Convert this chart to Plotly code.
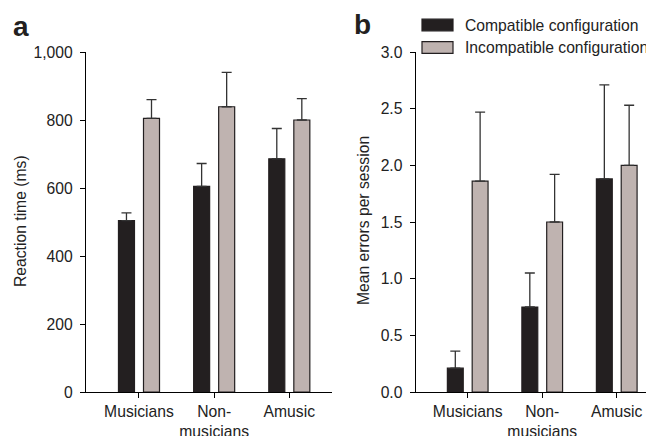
import plotly.graph_objects as go

categories = ["Musicians", "Non-musicians", "Amusic"]
tick_labels = ["Musicians", "Non-<br>musicians", "Amusic"]
series_names = ["Compatible configuration", "Incompatible configuration"]

rt_compatible = [504, 605, 686]
rt_compatible_err = [23, 67, 89]
rt_incompatible = [805, 839, 800]
rt_incompatible_err = [55, 101, 63]

err_compatible = [0.21, 0.75, 1.88]
err_compatible_err = [0.15, 0.30, 0.83]
err_incompatible = [1.86, 1.50, 2.00]
err_incompatible_err = [0.61, 0.42, 0.53]

rt_ticks = [0, 200, 400, 600, 800, 1000]
rt_ticktext = ["0", "200", "400", "600", "800", "1,000"]
err_ticks = [0, 0.5, 1.0, 1.5, 2.0, 2.5, 3.0]
err_ticktext = ["0.0", "0.5", "1.0", "1.5", "2.0", "2.5", "3.0"]

BLACK = "#231f20"
GRAY = "#bfb3b0"
EDGE = "#231f20"
FONT = "Liberation Sans, Arial, Helvetica, sans-serif"
FS = 15.7

# The page body has an 8px margin, so the figure is sized to fill the
# remaining window and page pixel positions are shifted by that margin.
PAGE_MARGIN = 8
W, H = 654 - PAGE_MARGIN, 436 - PAGE_MARGIN
xpos = [0, 1, 2]

fig = go.Figure()

def add_bars(xaxis, yaxis, vals, errs, color, offset):
    fig.add_trace(go.Bar(
        x=xpos, y=vals, xaxis=xaxis, yaxis=yaxis,
        width=0.213, offset=offset,
        marker=dict(color=color, line=dict(color=EDGE, width=1.2)),
        error_y=dict(type="data", array=errs, symmetric=False,
                     arrayminus=[0] * len(errs),
                     color="#333333", thickness=1.3, width=5),
        showlegend=False,
    ))

add_bars("x", "y", rt_compatible, rt_compatible_err, BLACK, -0.273)
add_bars("x", "y", rt_incompatible, rt_incompatible_err, GRAY, 0.06)
add_bars("x2", "y2", err_compatible, err_compatible_err, BLACK, -0.273)
add_bars("x2", "y2", err_incompatible, err_incompatible_err, GRAY, 0.06)

def px_x(p):
    return (p - PAGE_MARGIN) / W

def px_y(p):
    return (H - (p - PAGE_MARGIN)) / H

ydom = [px_y(392), px_y(52)]

common_x = dict(
    tickmode="array", tickvals=xpos, ticktext=tick_labels,
    showline=True, linecolor="#000000", linewidth=1.2,
    ticks="outside", ticklen=5, tickcolor="#000000", tickwidth=1.2,
    showgrid=False, zeroline=False, automargin=False,
    tickfont=dict(family=FONT, size=FS, color="#222222"),
)
common_y = dict(
    showline=True, linecolor="#000000", linewidth=1.2,
    ticks="outside", ticklen=5, tickcolor="#000000", tickwidth=1.2,
    showgrid=False, zeroline=False, automargin=False,
    tickfont=dict(family=FONT, size=FS, color="#222222"),
    ticklabelstandoff=4,
)

fig.update_layout(
    template="none",
    width=W, height=H,
    margin=dict(l=0, r=0, t=0, b=0, autoexpand=False),
    paper_bgcolor="white", plot_bgcolor="white",
    barmode="overlay",
    font=dict(family=FONT, size=FS, color="#222222"),
    xaxis=dict(domain=[px_x(86), px_x(332)], range=[-0.705, 2.568],
               anchor="y", **common_x),
    yaxis=dict(domain=ydom, range=[0, 1000], anchor="x",
               tickvals=rt_ticks, ticktext=rt_ticktext, **common_y),
    xaxis2=dict(domain=[px_x(415.7), 1.0], range=[-0.698, 2.5],
                anchor="y2", **common_x),
    yaxis2=dict(domain=ydom, range=[0, 3.0], anchor="x2",
                tickvals=err_ticks, ticktext=err_ticktext, **common_y),
)

annotations = [
    dict(text="<b>a</b>", x=px_x(11), y=px_y(27), xref="paper", yref="paper",
         xanchor="left", yanchor="middle", showarrow=False,
         font=dict(family=FONT, size=28, color="#231f20")),
    dict(text="<b>b</b>", x=px_x(352), y=px_y(24), xref="paper", yref="paper",
         xanchor="left", yanchor="middle", showarrow=False,
         font=dict(family=FONT, size=28, color="#231f20")),
    dict(text="Reaction time (ms)", x=px_x(20), y=px_y(221), xref="paper",
         yref="paper", xanchor="center", yanchor="middle", textangle=-90,
         showarrow=False, font=dict(family=FONT, size=FS, color="#222222")),
    dict(text="Mean errors per session", x=px_x(363), y=px_y(221),
         xref="paper", yref="paper", xanchor="center", yanchor="middle",
         textangle=-90, showarrow=False,
         font=dict(family=FONT, size=FS, color="#222222")),
]

shapes = []
legend_colors = [BLACK, GRAY]
legend_y = [25, 47.5]
for name, col, yc in zip(series_names, legend_colors, legend_y):
    shapes.append(dict(type="rect", xref="paper", yref="paper",
                       x0=px_x(422), x1=px_x(453), y0=px_y(yc - 5.8),
                       y1=px_y(yc + 5.8), fillcolor=col,
                       line=dict(color=EDGE, width=1.2)))
    annotations.append(dict(text=name, x=px_x(465), y=px_y(yc), xref="paper",
                            yref="paper", xanchor="left", yanchor="middle",
                            showarrow=False, borderpad=0, borderwidth=0,
                            font=dict(family=FONT, size=15.7, color="#222222")))

fig.update_layout(annotations=annotations, shapes=shapes)

fig.write_html("out.html", config={"displayModeBar": False})
